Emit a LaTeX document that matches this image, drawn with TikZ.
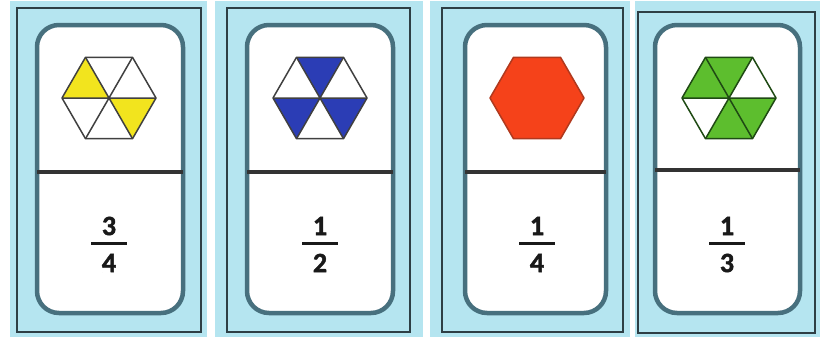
\documentclass[tikz,border=0pt]{standalone}
\usepackage{fontspec}
\setmainfont{Carlito}
\newfontfamily\fracfont[BoldFeatures={FakeBold=1.5}]{Carlito}
\definecolor{bgblue}{HTML}{B5E5F0}
\definecolor{framec}{HTML}{2E3F45}
\definecolor{innerc}{HTML}{47707E}
\definecolor{yel}{HTML}{F2E41E}
\definecolor{blu}{HTML}{2B3DB5}
\definecolor{org}{HTML}{F5421A}
\definecolor{orgd}{HTML}{B0391E}
\definecolor{grn}{HTML}{5DBE2E}
\definecolor{grnd}{HTML}{1F4A14}
\newcommand\mytri[2]{\fill[#1] (0,0) -- (-#2:47) -- (-#2-60:47) -- cycle;}
\newcommand\myhexlines[1]{%
  \draw[#1] (0:47) -- (60:47) -- (120:47) -- (180:47) -- (240:47) -- (300:47) -- cycle;
  \draw[#1] (0:47) -- (180:47) (60:47) -- (240:47) (120:47) -- (300:47);}
\begin{document}
\begin{tikzpicture}[x=1pt,y=-1pt,
  framel/.style={draw=framec,line width=1.6pt},
  innerl/.style={draw=innerc,line width=4.5pt,fill=white,rounded corners=22pt},
  divl/.style={draw=black!80,line width=3.5pt},
  hexl/.style={draw=black!75,line width=1.5pt,line join=round},
  fracnum/.style={font=\fracfont\bfseries\fontsize{28}{30}\selectfont,inner sep=0pt,text=black!90},
  barl/.style={draw=black!90,line width=3pt}]
\useasboundingbox[fill=white] (0,0) rectangle (820,338);
% card 1
\fill[bgblue] (10,1) rectangle (207,337);
\draw[framel] (17,8) rectangle (201,332);
\draw[innerl] (37,25) rectangle (183,313);
\draw[divl] (37,172) -- (183,172);
\begin{scope}[shift={(109,98)}]
\mytri{yel}{120}\mytri{yel}{300}
\myhexlines{hexl}
\end{scope}
\node[fracnum] (n1) at (109,226) {3};
\node[fracnum] (d1) at (109,263) {4};
\draw[barl] (91,243) -- (127,243);
% card 2
\fill[bgblue] (215,1) rectangle (423,337);
\draw[framel] (227,8) rectangle (410,332);
\draw[innerl] (247,25) rectangle (393,313);
\draw[divl] (247,172) -- (393,172);
\begin{scope}[shift={(320,98)}]
\mytri{blu}{60}\mytri{blu}{180}\mytri{blu}{300}
\myhexlines{hexl}
\end{scope}
\node[fracnum] (n2) at (320,226) {1};
\node[fracnum] (d2) at (320,263) {2};
\draw[barl] (302,243) -- (338,243);
% card 3
\fill[bgblue] (430,1) rectangle (630,337);
\draw[framel] (442,8) rectangle (623,332);
\draw[innerl] (465,25) rectangle (606,313);
\draw[divl] (465,172) -- (606,172);
\begin{scope}[shift={(537,98)}]
\draw[fill=org,draw=orgd,line width=1.5pt,line join=round] (0:47) -- (60:47) -- (120:47) -- (180:47) -- (240:47) -- (300:47) -- cycle;
\end{scope}
\node[fracnum] (n3) at (537,226) {1};
\node[fracnum] (d3) at (537,263) {4};
\draw[barl] (519,243) -- (555,243);
% card 4
\fill[bgblue] (635,1) rectangle (820,337);
\draw[framel] (638,12) rectangle (815,333);
\draw[innerl] (655,25) rectangle (800,313);
\draw[divl] (655,170) -- (800,170);
\begin{scope}[shift={(729,98)}]
\mytri{grn}{120}\mytri{grn}{60}\mytri{grn}{240}\mytri{grn}{300}
\myhexlines{draw=grnd,line width=1.5pt,line join=round}
\end{scope}
\node[fracnum] (n4) at (727,226) {1};
\node[fracnum] (d4) at (727,263) {3};
\draw[barl] (709,243) -- (745,243);
\end{tikzpicture}
\end{document}
